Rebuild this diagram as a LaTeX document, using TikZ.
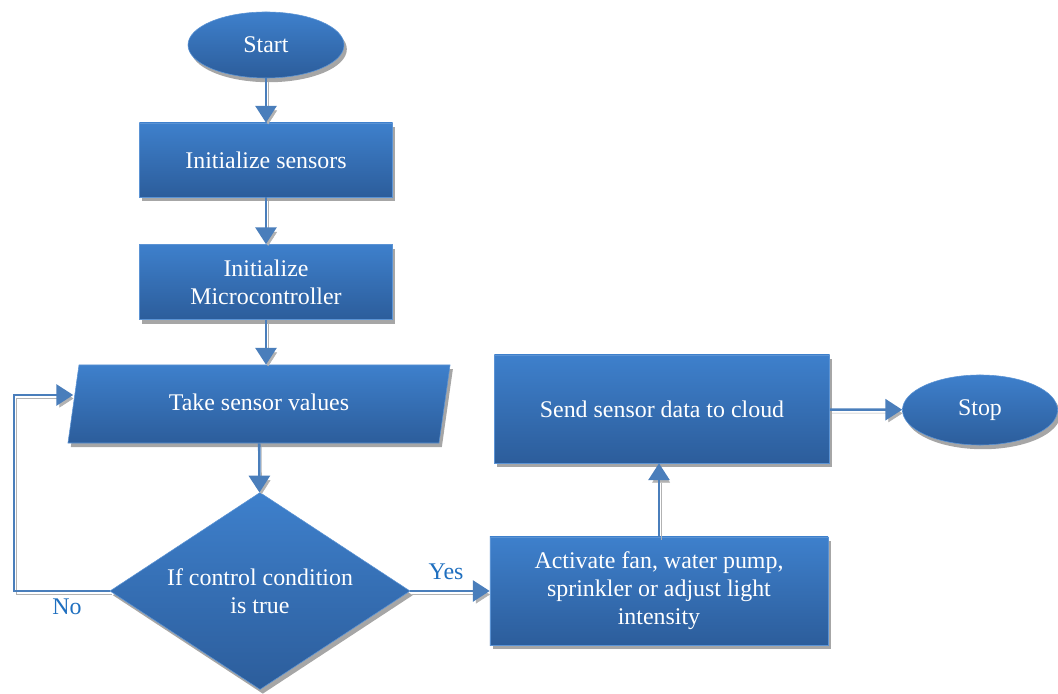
\documentclass[tikz,border=0pt]{standalone}
\usepackage{fontspec}
\setmainfont{Liberation Serif}
\usetikzlibrary{arrows.meta,shapes.geometric,shadows}
\definecolor{flowtop}{HTML}{3E80CC}
\definecolor{flowbot}{HTML}{2C5D9B}
\definecolor{flowline}{HTML}{4A7EBB}
\definecolor{labelblue}{HTML}{1F6FBF}

\begin{document}
\begin{tikzpicture}[x=0.025cm, y=-0.025cm,
    font=\fontsize{17}{20}\selectfont,
    block/.style={top color=flowtop, bottom color=flowbot, draw=flowtop!85!white,
      line width=0.4pt, text=white, align=center, inner sep=0pt,
      drop shadow={shadow xshift=2pt, shadow yshift=-3pt, fill=black!35, opacity=1}},
    terminal/.style={block, ellipse, minimum width=3.9cm, minimum height=1.65cm},
    process/.style={block, rectangle, minimum width=6.325cm, minimum height=1.85cm},
    io/.style={block, trapezium, trapezium left angle=62, trapezium right angle=118,
      trapezium stretches body, minimum width=9.55cm, minimum height=1.95cm},
    decision/.style={block, diamond, aspect=1.52, minimum width=7.5cm, minimum height=4.925cm},
    flow/.style={draw=flowline, line width=1.8pt, -{Triangle[width=15pt,length=12pt]},
      preaction={draw=black!30, transform canvas={shift={(1.5pt,-2.5pt)}}}},
    tag/.style={text=labelblue}]
    \useasboundingbox (0,0) rectangle (1058,694);

    \node[terminal] (start) at (266,45){Start};
    \node[process] (sensors) at (266,160){Initialize sensors};
    \node[process, minimum height=1.875cm] (micro) at (266,282){Initialize\\Microcontroller};
    \node[io] (take) at (259,404){\raisebox{3pt}{Take sensor values}};
    \node[decision] (cond) at (260,591){If control condition\\is true};
    \node[process, minimum width=8.45cm, minimum height=2.7cm] (act) at (659,591){Activate fan, water pump,\\sprinkler or adjust light\\intensity};
    \node[process, minimum width=8.375cm, minimum height=2.7cm] (send) at (662,409){Send sensor data to cloud};
    \node[terminal, minimum width=3.875cm, minimum height=1.75cm] (stop) at (980,410){Stop};
    \coordinate (bend) at (14,395);

    \draw[flow] (start)--(sensors);
    \draw[flow] (sensors)--(micro);
    \draw[flow] (micro.south)--(micro.south |- take.north);
    \draw[flow] (take)--(cond);
    \draw[flow] (cond)--(act) node[tag, pos=0.45, above=4pt]{Yes};
    \draw[flow] (act.north)--(act.north |- send.south);
    \draw[flow] (send)--(stop);
    \draw[flow] (cond.west) -| (bend) -- (take.west |- bend);
    \node[tag] (no) at (67,607){No};
  \end{tikzpicture}
\end{document}
